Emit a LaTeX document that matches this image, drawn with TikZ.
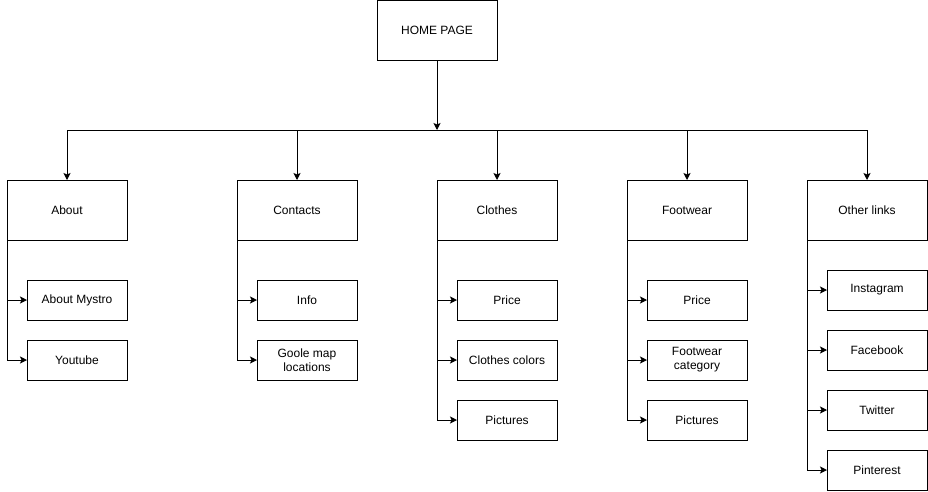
\documentclass[tikz,border=0pt]{standalone}
\usepackage{fontspec}
\setmainfont{Liberation Sans}
\usetikzlibrary{arrows.meta,positioning}
\tikzstyle{page} = [
  rectangle, draw, line width = 1pt, inner sep = 0pt, outer sep = 0pt,
  text centered, minimum width = 120pt, minimum height = 60pt
]
\tikzstyle{subpage} = [
  rectangle, draw, line width = 1pt, inner sep = 0pt, outer sep = 0pt,
  align = center, minimum width = 100pt, minimum height = 40pt
]
\tikzstyle{link} = [
  line width = 1pt, -{Stealth[length=7pt, width=7pt, inset=1.5pt]}
]

\begin{document}
\begin{tikzpicture}[font=\fontsize{12}{14}\selectfont]
    \useasboundingbox (0pt,0pt) rectangle (928pt,-491pt);

    \node[page] (home) at (437pt,-30pt) {HOME PAGE};
    \coordinate (bus) at (437pt,-130pt);

    \node[page] (about) at (67pt,-210pt) {About};
    \node[page] (contacts) at (297pt,-210pt) {Contacts};
    \node[page] (clothes) at (497pt,-210pt) {Clothes};
    \node[page] (footwear) at (687pt,-210pt) {Footwear};
    \node[page] (other) at (867pt,-210pt) {Other links};

    % about
    \node[subpage, below right=40pt and 20pt of about.south west] (mystro) {About Mystro};
    \node[subpage, below=20pt of mystro] (youtube) {Youtube};

    % contacts
    \node[subpage, below right=40pt and 20pt of contacts.south west] (info) {Info};
    \node[subpage, below=20pt of info] (maps) {Goole map\\locations};

    % clothes
    \node[subpage, below right=40pt and 20pt of clothes.south west] (cprice) {Price};
    \node[subpage, below=20pt of cprice] (colors) {Clothes colors};
    \node[subpage, below=20pt of colors] (cpics) {Pictures};

    % footwear
    \node[subpage, below right=40pt and 20pt of footwear.south west] (fprice) {Price};
    \node[subpage, below=20pt of fprice] (category) {Footwear\\category};
    \node[subpage, below=20pt of category] (fpics) {Pictures};

    % other links
    \node[subpage, below right=30pt and 20pt of other.south west] (insta) {Instagram};
    \node[subpage, below=20pt of insta] (fb) {Facebook};
    \node[subpage, below=20pt of fb] (twitter) {Twitter};
    \node[subpage, below=20pt of twitter] (pin) {Pinterest};

    \draw[link] (home.south) -- (bus);
    \draw[link] (bus) -| (about.north);
    \draw[link] (bus) -| (contacts.north);
    \draw[link] (bus) -| (clothes.north);
    \draw[link] (bus) -| (footwear.north);
    \draw[link] (bus) -| (other.north);

    \draw[link] (about.south west) |- (mystro.west);
    \draw[link] (about.south west) |- (youtube.west);
    \draw[link] (contacts.south west) |- (info.west);
    \draw[link] (contacts.south west) |- (maps.west);
    \draw[link] (clothes.south west) |- (cprice.west);
    \draw[link] (clothes.south west) |- (colors.west);
    \draw[link] (clothes.south west) |- (cpics.west);
    \draw[link] (footwear.south west) |- (fprice.west);
    \draw[link] (footwear.south west) |- (category.west);
    \draw[link] (footwear.south west) |- (fpics.west);
    \draw[link] (other.south west) |- (insta.west);
    \draw[link] (other.south west) |- (fb.west);
    \draw[link] (other.south west) |- (twitter.west);
    \draw[link] (other.south west) |- (pin.west);
  \end{tikzpicture}
\end{document}
